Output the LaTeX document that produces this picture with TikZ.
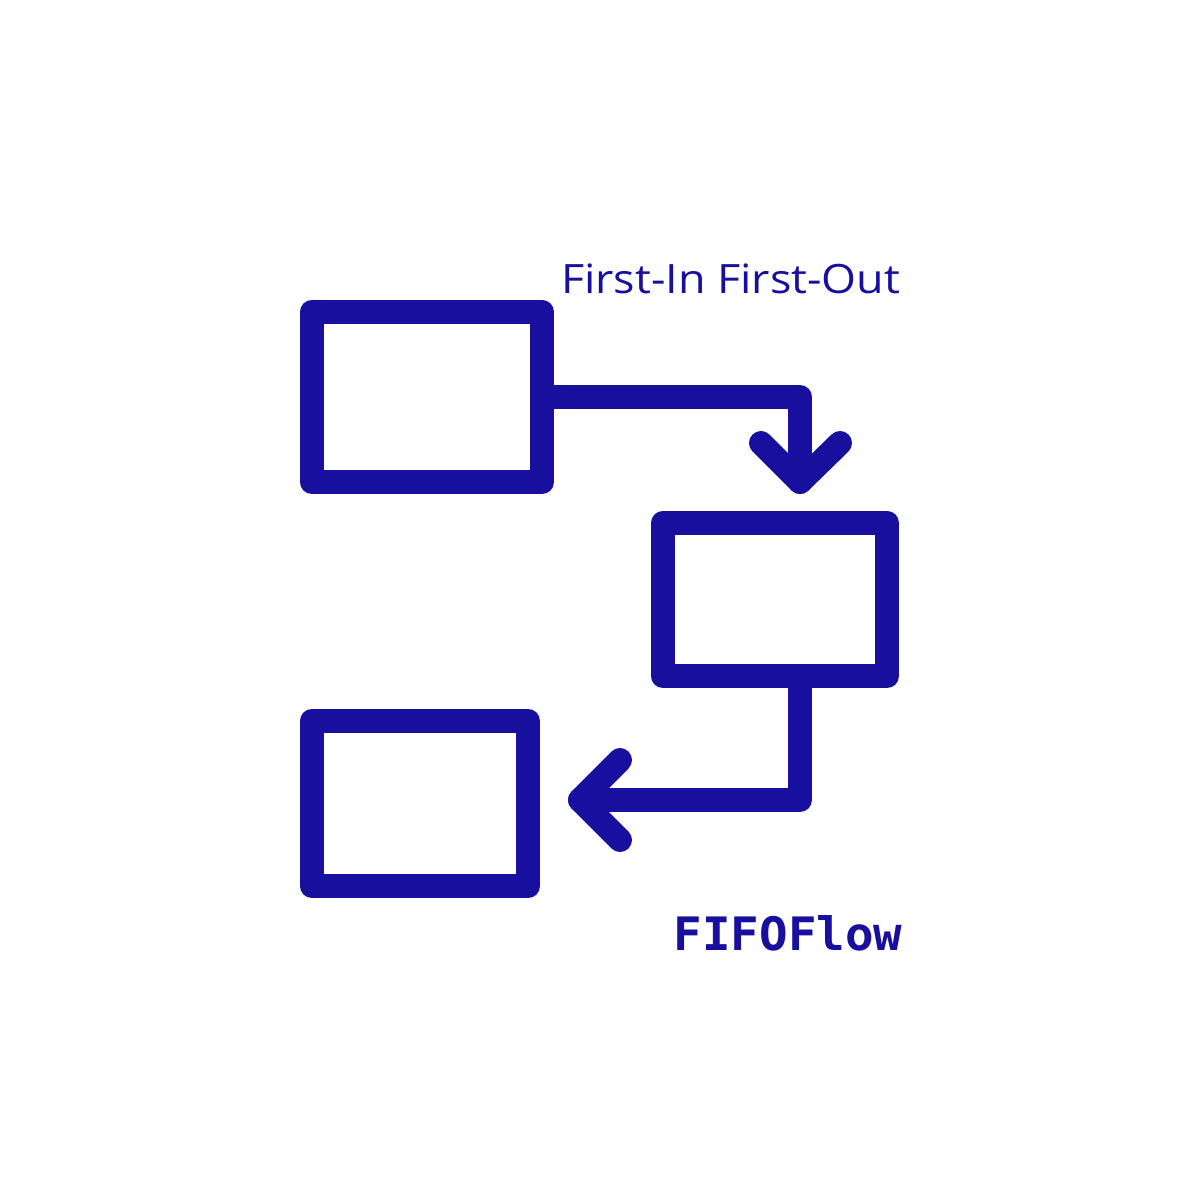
\documentclass[tikz,border=0pt]{standalone}
\usepackage{fontspec}
\setmainfont{Open Sans}[FakeStretch=1.11]
\newfontfamily\flowmono{DejaVu Sans Mono}[FakeStretch=1.03]
\usepackage{tikz}
\usetikzlibrary{positioning}
\definecolor{fifoblue}{HTML}{180F9E}
\tikzstyle{box}=[draw=fifoblue, line width=2.4mm, line join=round, inner sep=0pt, outer sep=0pt]
\tikzstyle{flow}=[draw=fifoblue, line width=2.4mm, line join=round, line cap=round]

\begin{document}
\begin{tikzpicture}[x=0.01cm, y=-0.01cm]
        \useasboundingbox (0,0) rectangle (1200,1200);
        % Cajas
        \node[box, minimum width=2.3cm, minimum height=1.7cm] (box1) at (427, 397) {};
        \node[box, minimum width=2.24cm, minimum height=1.53cm] (box2) at (775, 599.5) {};
        \node[box, minimum width=2.16cm, minimum height=1.65cm] (box3) at (420, 803.5) {};
        % Puntas
        \coordinate (tip1) at (800, 482);
        \coordinate (tip2) at (580, 800);
        % Flechas
        \draw[flow] (box1.east) -- (box1.east -| tip1) -- (tip1);
        \draw[flow] (tip1) +(-39,-39) -- (tip1) -- +(40,-39);
        \draw[flow] (box2.south -| tip1) -- (tip1 |- tip2) -- (tip2);
        \draw[flow] (tip2) +(40,-40) -- (tip2) -- +(40,40);
        % Textos
        \node[anchor=base east, inner sep=0pt, text=fifoblue, font=\fontsize{11.5}{14}\selectfont] (title) at (901, 293) {First-In First-Out};
        \node[anchor=base east, inner sep=0pt, text=fifoblue, font=\flowmono\bfseries\fontsize{13.1}{15}\selectfont] (name) at (903, 950) {FIFOFlow};
\end{tikzpicture}
\end{document}
